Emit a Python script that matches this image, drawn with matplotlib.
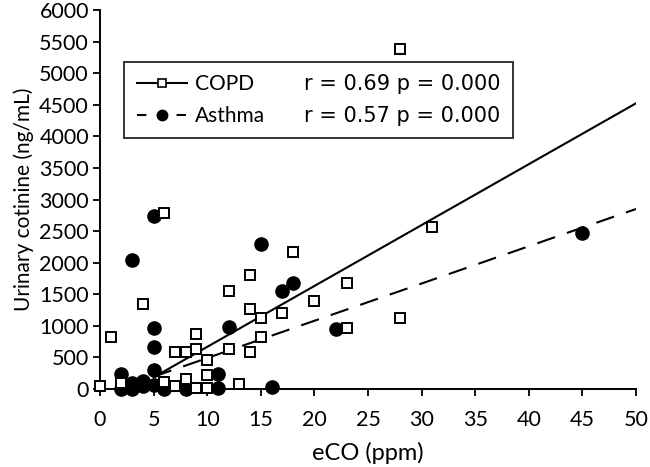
import matplotlib
matplotlib.use("Agg")
import matplotlib.pyplot as plt
from matplotlib.lines import Line2D
import numpy as np

plt.rcParams['font.family'] = ['Lato', 'DejaVu Sans']

# COPD data (open squares)
copd_x = [0, 1, 2, 4, 6, 6, 7, 7, 8, 8, 9, 9, 9, 10, 10, 10, 12, 12, 13, 14, 14, 14,
          15, 15, 17, 18, 20, 23, 23, 28, 28, 31]
copd_y = [50, 820, 90, 1340, 2790, 110, 580, 50, 580, 160, 870, 640, 10, 460, 220, 10,
          640, 1550, 80, 1800, 1270, 590, 1130, 820, 1210, 2170, 1400, 1680, 970, 5380, 1130, 2560]

# Asthma data (filled circles)
asthma_x = [2, 2, 3, 3, 3, 4, 4, 5, 5, 5, 5, 5, 6, 8, 8, 11, 11, 12, 15, 16, 17, 18, 22, 45]
asthma_y = [0, 240, 2040, 100, 0, 130, 50, 2740, 960, 660, 300, 60, 0, 30, 0, 230, 20,
            980, 2300, 30, 1550, 1680, 950, 2470]

# Regression lines (slope, intercept), drawn over the eCO range below
copd_fit = (96.4, -297)
asthma_fit = (59.0, -100)
fit_range = [5, 50]

copd_label = "COPD"
asthma_label = "Asthma"
copd_stats = "r = 0.69 p = 0.000"
asthma_stats = "r = 0.57 p = 0.000"

x_ticks = [0, 5, 10, 15, 20, 25, 30, 35, 40, 45, 50]
y_ticks = [0, 500, 1000, 1500, 2000, 2500, 3000, 3500, 4000, 4500, 5000, 5500, 6000]

fig = plt.figure(figsize=(6.5, 4.67), dpi=100)
ax = fig.add_axes([100/650, 1-389/467, 536/650, 379/467])

fx = np.array(fit_range, dtype=float)
ax.plot(fx, copd_fit[0]*fx + copd_fit[1], color='black', lw=1.5, ls='-', zorder=2)
ax.plot(fx, asthma_fit[0]*fx + asthma_fit[1], color='black', lw=1.5, ls=(0, (9, 6)), zorder=2)

ax.plot(asthma_x, asthma_y, 'o', color='black', markersize=9.5, ls='none', zorder=3, clip_on=False)
ax.plot(copd_x, copd_y, 's', mfc='white', mec='black', mew=1.4, markersize=6.5, ls='none',
        zorder=4, clip_on=False)

ax.set_xlim(0, 50)
ax.set_ylim(0, 6000)
ax.set_xticks(x_ticks)
ax.set_yticks(y_ticks)
ax.tick_params(direction='out', length=5, width=1.3, labelsize=15.5, colors='black')
ax.tick_params(axis='x', pad=10)
ax.tick_params(axis='y', pad=3)
for s in ['top', 'right']:
    ax.spines[s].set_visible(False)
for s in ['left', 'bottom']:
    ax.spines[s].set_linewidth(1.4)
ax.set_xlabel("eCO (ppm)", fontsize=17, labelpad=9)
ax.set_ylabel("Urinary cotinine (ng/mL)", fontsize=15, labelpad=4)

h_copd = Line2D([], [], color='black', lw=1.5, ls='-', marker='s', mfc='white', mec='black',
                mew=1.2, markersize=6)
h_ast = Line2D([], [], color='black', lw=1.5, ls=(0, (4.5, 5)), marker='o', markersize=7.5)
h_empty = Line2D([], [], color='none', lw=0)
leg = ax.legend([h_copd, h_ast, h_empty, h_empty],
                [copd_label, asthma_label, copd_stats, asthma_stats],
                ncol=2, loc='upper left', bbox_to_anchor=(124/650, 1-62/467),
                bbox_transform=fig.transFigure, borderaxespad=0, fontsize=15,
                frameon=True, fancybox=False, edgecolor='black', handlelength=2.4,
                handletextpad=0.4, columnspacing=-0.95, labelspacing=0.55,
                borderpad=0.6, numpoints=1)
leg.get_frame().set_linewidth(1.4)
for t in leg.get_texts()[2:]:
    t.set_fontfamily('DejaVu Sans')

fig.savefig("out.png", dpi=100)
